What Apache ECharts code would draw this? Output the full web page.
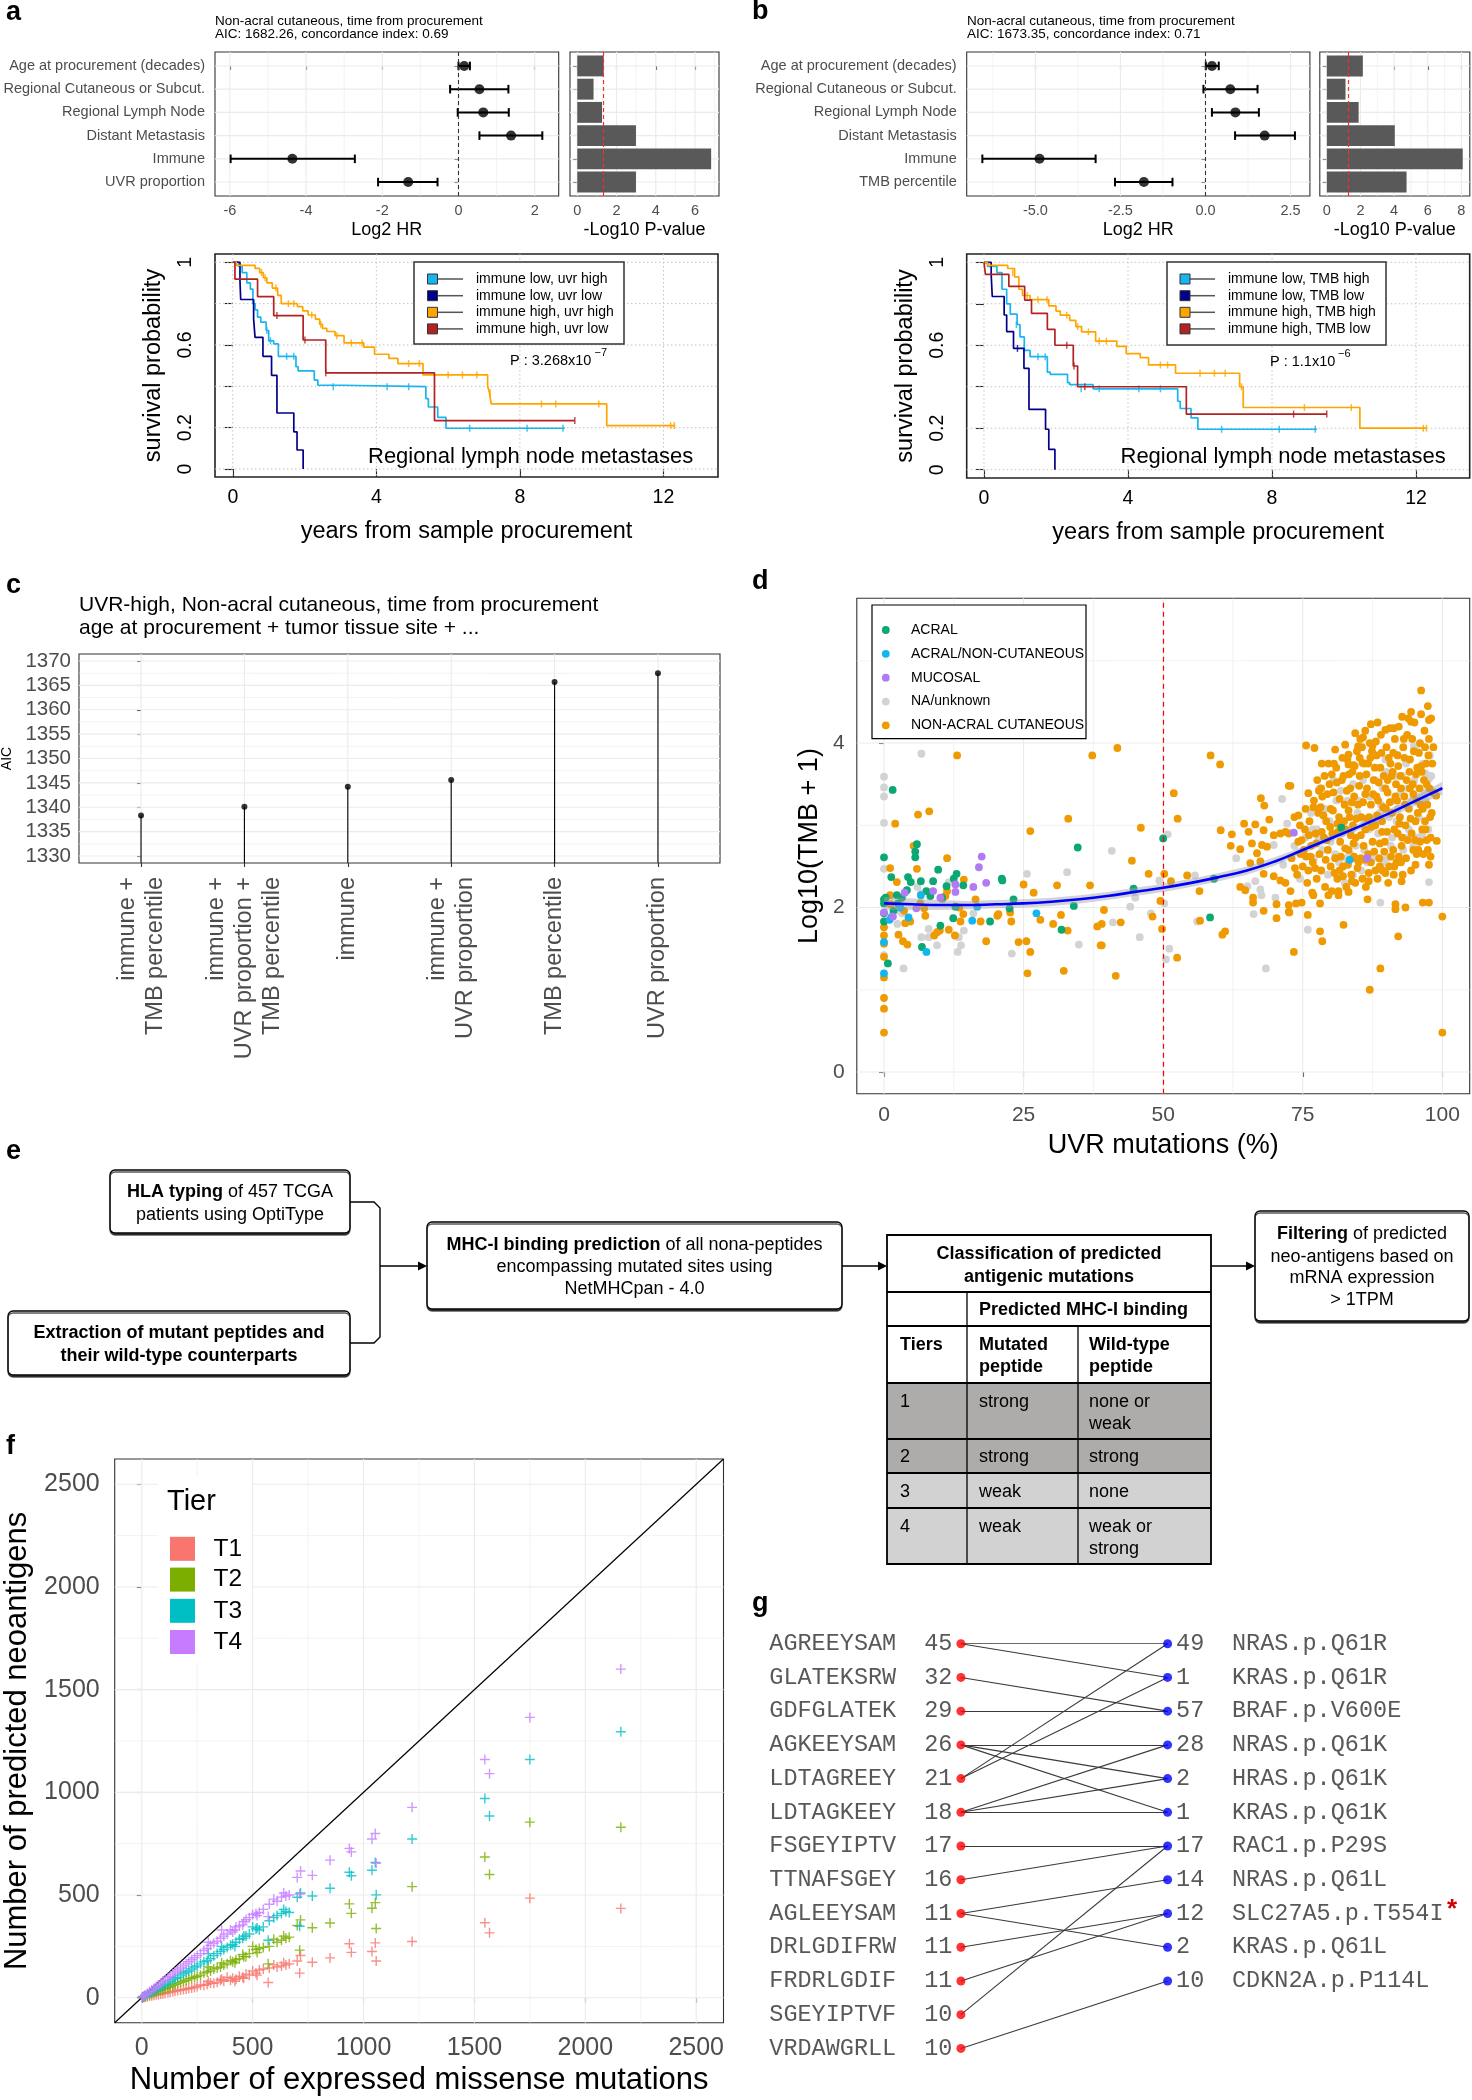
<!DOCTYPE html>
<html>
<head>
<meta charset="utf-8">
<title>Figure</title>
<script src="https://cdn.jsdelivr.net/npm/echarts@6.0.0/dist/echarts.min.js"></script>
<style>
html,body{margin:0;padding:0;background:#ffffff;}
#chart{width:1472px;height:2100px;}
</style>
</head>
<body>
<div id="chart"></div>
<script>
/* ======================= DATA ======================= */
// Panel a / b : Cox models
const coxRowsA = ['Age at procurement (decades)','Regional Cutaneous or Subcut.','Regional Lymph Node','Distant Metastasis','Immune','UVR proportion'];
const log2HrA = [0.15, 0.55, 0.65, 1.38, -4.36, -1.32];
const ciLowA  = [0.00, -0.22, -0.02, 0.55, -5.98, -2.11];
const ciHighA = [0.30, 1.31, 1.32, 2.20, -2.72, -0.55];
const negLogPA = [1.35, 0.83, 1.26, 2.99, 6.82, 2.99];
const coxRowsB = ['Age at procurement (decades)','Regional Cutaneous or Subcut.','Regional Lymph Node','Distant Metastasis','Immune','TMB percentile'];
const log2HrB = [0.19, 0.73, 0.88, 1.74, -4.88, -1.81];
const ciLowB  = [0.01, -0.06, 0.19, 0.87, -6.56, -2.66];
const ciHighB = [0.39, 1.53, 1.57, 2.63, -3.23, -0.97];
const negLogPB = [2.14, 1.11, 1.89, 4.04, 8.08, 4.74];
const pThreshold = 1.30;
const titleA = ['Non-acral cutaneous, time from procurement', 'AIC: 1682.26, concordance index: 0.69'];
const titleB = ['Non-acral cutaneous, time from procurement', 'AIC: 1673.35, concordance index: 0.71'];
const hrTicksA = [-6, -4, -2, 0, 2];
const hrMinorA = [-5, -3, -1, 1];
const hrTicksB = [-5, -2.5, 0, 2.5];
const hrMinorB = [-6.25, -3.75, -1.25, 1.25];
const pTicksA = [0, 2, 4, 6];
const pMinorA = [1, 3, 5, 7];
const pTicksB = [0, 2, 4, 6, 8];
const pMinorB = [1, 3, 5, 7];

// Kaplan-Meier curves [years, survival]
const kmGroupsA = ['immune low, uvr high', 'immune low, uvr low', 'immune high, uvr high', 'immune high, uvr low'];
const kmGroupsB = ['immune low, TMB high', 'immune low, TMB low', 'immune high, TMB high', 'immune high, TMB low'];
const kmA_lowHigh = [[0,1],[0.16,0.98],[0.26,0.95],[0.39,0.90],[0.49,0.87],[0.56,0.80],[0.62,0.77],[0.69,0.735],[0.78,0.71],[0.93,0.67],[1.0,0.62],[1.14,0.605],[1.27,0.545],[1.76,0.495],[1.82,0.475],[2.27,0.43],[2.37,0.405],[3.05,0.398],[5.38,0.34],[5.45,0.30],[5.71,0.25],[5.94,0.197],[9.25,0.197]];
const kmA_lowLow = [[0,1],[0.2,0.91],[0.22,0.82],[0.58,0.726],[0.62,0.637],[0.84,0.545],[1.08,0.453],[1.23,0.271],[1.70,0.18],[1.79,0.092],[1.96,0]];
const kmA_highHigh = [[0,1],[0.1,0.985],[0.62,0.97],[0.75,0.95],[0.85,0.925],[0.95,0.90],[1.1,0.875],[1.25,0.84],[1.35,0.80],[1.8,0.785],[1.95,0.765],[2.1,0.745],[2.3,0.725],[2.42,0.70],[2.5,0.68],[2.62,0.665],[2.85,0.645],[3.1,0.61],[3.65,0.59],[3.95,0.555],[4.35,0.535],[4.6,0.51],[5.3,0.455],[7.1,0.40],[7.15,0.37],[7.2,0.315],[10.42,0.21],[12.33,0.21]];
const kmA_highLow = [[0,1],[0.06,0.918],[0.69,0.834],[1.14,0.742],[1.96,0.624],[2.59,0.465],[5.62,0.234],[9.53,0.234]];
const kmB_lowHigh = [[0,1],[0.1,0.98],[0.36,0.95],[0.5,0.87],[0.63,0.80],[0.73,0.75],[0.92,0.70],[1.0,0.64],[1.12,0.575],[1.28,0.545],[1.76,0.47],[1.84,0.46],[2.32,0.42],[2.38,0.41],[3.03,0.39],[5.38,0.33],[5.45,0.295],[5.75,0.25],[5.94,0.195],[9.25,0.195]];
const kmB_lowLow = [[0,1],[0.2,0.94],[0.23,0.835],[0.56,0.746],[0.63,0.666],[0.82,0.585],[1.11,0.489],[1.25,0.291],[1.71,0.195],[1.80,0.098],[1.97,0]];
const kmB_highHigh = [[0,1],[0.1,0.985],[0.66,0.97],[0.85,0.93],[0.97,0.87],[1.07,0.84],[1.28,0.82],[1.8,0.79],[2.0,0.765],[2.12,0.745],[2.38,0.72],[2.55,0.69],[2.71,0.665],[3.1,0.62],[3.69,0.595],[3.95,0.56],[4.34,0.54],[4.57,0.505],[5.32,0.465],[7.1,0.40],[7.2,0.30],[10.44,0.2],[12.29,0.2]];
const kmB_highLow = [[0,1],[0.04,0.942],[0.69,0.884],[1.13,0.818],[1.32,0.754],[1.76,0.677],[1.97,0.6],[2.48,0.5],[2.6,0.4],[5.62,0.268],[9.52,0.268]];
// censoring marks
const censA_lowHigh = [[0.95,0.67],[1.05,0.62],[1.5,0.545],[1.7,0.545],[2.8,0.398],[4.3,0.398],[4.9,0.398],[6.6,0.197],[8.2,0.197],[9.2,0.197]];
const censA_lowLow = [];
const censA_highHigh = [[0.8,0.95],[0.9,0.925],[1.2,0.875],[1.55,0.80],[1.7,0.80],[2.2,0.745],[2.45,0.70],[2.9,0.645],[3.3,0.61],[3.6,0.61],[4.9,0.51],[5.2,0.51],[6.0,0.455],[6.4,0.455],[6.8,0.455],[7.17,0.37],[8.6,0.315],[9.0,0.315],[10.2,0.315],[12.2,0.21],[12.3,0.21]];
const censA_highLow = [[1.23,0.742],[2.01,0.624],[2.59,0.465],[9.53,0.234]];
const censB_lowHigh = [[0.9,0.70],[1.5,0.545],[1.7,0.545],[2.7,0.39],[3.2,0.39],[4.3,0.39],[4.9,0.39],[6.6,0.195],[8.2,0.195],[9.2,0.195]];
const censB_lowLow = [[0.93,0.585]];
const censB_highHigh = [[0.8,0.95],[1.2,0.84],[1.5,0.82],[1.75,0.82],[2.3,0.745],[2.6,0.69],[2.9,0.665],[3.2,0.62],[3.4,0.62],[4.9,0.505],[5.1,0.505],[6.0,0.465],[6.4,0.465],[6.7,0.465],[7.15,0.40],[8.9,0.30],[10.2,0.30],[12.2,0.2],[12.29,0.2]];
const censB_highLow = [[2.3,0.6],[2.5,0.5],[2.8,0.4],[8.6,0.268],[9.52,0.268]];
const kmXTicks = [0, 4, 8, 12];
const kmYTicks = [0, 0.2, 0.4, 0.6, 0.8, 1];
const kmYLabels = [0, 0.2, 0.6, 1];
const kmPValueA = ['P : 3.268x10', '\u22127'];
const kmPValueB = ['P : 1.1x10', '\u22126'];
const kmSubset = 'Regional lymph node metastases';

// Panel c : AIC
const aicTitle = ['UVR-high, Non-acral cutaneous, time from procurement', 'age at procurement + tumor tissue site + ...'];
const aicModels = ['immune +\nTMB percentile', 'immune +\nUVR proportion +\nTMB percentile', 'immune', 'immune +\nUVR proportion', 'TMB percentile', 'UVR proportion'];
const aicValues = [1338.3, 1340.1, 1344.2, 1345.6, 1365.7, 1367.5];
const aicTicks = [1330, 1335, 1340, 1345, 1350, 1355, 1360, 1365, 1370];
const aicMinor = [1332.5, 1337.5, 1342.5, 1347.5, 1352.5, 1357.5, 1362.5, 1367.5];

// Panel d : UVR vs TMB
const dLegend = ['ACRAL', 'ACRAL/NON-CUTANEOUS', 'MUCOSAL', 'NA/unknown', 'NON-ACRAL CUTANEOUS'];
const dAcral = [[1.55,3.43],[0,2.61],[5.9,2.77],[5.6,2.68],[5.6,2.61],[1.3,2.37],[4.3,2.37],[4.8,2.31],[9.7,2.46],[6.6,2.32],[8.8,2.32],[13,2.41],[12.5,2.35],[14.2,2.27],[11.2,2.26],[4.1,2.21],[7.6,2.20],[8.3,2.14],[10.4,2.12],[21.1,2.35],[21.2,2.33],[23.2,2.10],[22.5,1.99],[12.8,2.01],[0,2.10],[0,2.05],[0,1.93],[0,1.83],[1.7,1.96],[12.4,1.87],[10.1,1.78],[19,1.83],[6.8,1.52],[0.7,1.32],[34,2.02],[34.7,2.73],[31.8,1.73],[2.3,2.15],[0.3,2.12],[2.5,2.05],[3.2,2.12],[50,2.84],[44.7,2.23],[59.1,2.35],[58.4,1.88],[81.9,2.97]];
const dAcralNonCut = [[6.6,2.15],[1.0,1.85],[4.4,1.88],[0,1.58],[0,1.20],[7.6,1.46],[15.8,1.84],[16.7,2.01],[27.3,1.93],[2.9,2.0],[1.4,1.89],[83.4,2.58]];
const dMucosal = [[17.5,2.62],[17,2.49],[18.3,2.30],[16,2.25],[12.8,2.28],[12.8,2.19],[8.8,2.20],[10.1,2.12],[3.7,2.18],[5.8,1.99],[0,1.94],[1.6,1.89],[73.4,2.91],[86.5,2.60]];
const dUnknown = [[6.7,3.87],[0,3.59],[0,3.46],[0,3.35],[0,3.03],[0,2.47],[6.6,2.17],[3.3,1.93],[2.4,1.80],[8.0,1.74],[6.7,1.64],[8,1.64],[9.5,1.54],[13.4,1.64],[14.3,1.72],[13.8,1.54],[13.2,1.46],[16,1.93],[3.5,1.26],[0,1.42],[22.9,1.44],[25.6,2.41],[32.8,2.43],[34.9,1.55],[11.6,2.31],[6,2.25],[10.5,2.1],[3,1.95],
 [40.8,2.69],[50.8,2.89],[50.2,2.05],[45,2.12],[44.1,2.01],[41,1.82],[47.8,1.93],[45.8,1.64],[51.1,1.50],[50.5,1.37],[55.7,2.39],[56.1,1.83],[49.3,2.33],[71.3,3.32],[69.8,2.76],[72.2,3.02],[63.1,2.60],[66.5,2.32],[65.1,2.26],[67.6,2.15],[70.1,2.12],[66.2,1.92],[68.4,1.26],[71.5,2.52],[67.4,2.22],
 [88.9,2.06],[75.9,1.73],[97.6,2.31],[96.4,2.89],[94.9,3.96],[91.9,3.86],[97,3.63],[97.6,3.57],
 [73.5,2.75],[74.5,2.35],[75.5,2.85],[76.5,3.15],[77,2.6],[77.5,2.95],[78.5,2.7],[79,3.2],[79.5,2.4],[80,2.8],[80.5,3.55],[81,3.3],[81.5,2.55],[82,2.9],[82.5,2.3],[83,3.3],[83.5,2.65],[84,3.5],[84.5,2.75],[85,3.3],[85.5,2.45],[86,3.05],[86.5,2.55],[87,3.35],[87.5,2.6],[88,3.55],[88.5,2.9],[89,3.25],[89.5,2.55],[90,3.65],[90.5,3.1],[91,2.85],[91.5,3.6],[92,3.2],[92.5,3.4],[93,2.7],[93.5,3.75],[94,2.95],[94.5,3.3],[95,3.55],[95.5,2.85],[96,3.35],[96.5,3.75],[97,3.3],[97.5,2.95],[98,3.6],[86,2.7],[84,2.4],[90,2.6],[78,3.45],
 [77.8,2.85],[79.8,3.05],[81.8,3.42],[83.8,2.95],[85.8,3.55],[87.8,3.05],[89.8,3.8],[91.8,3.05],[93.8,3.45],[95.8,3.1],[97.8,3.85],[82.8,2.6],[86.8,2.95],[90.8,2.75],[94.8,2.75],[96.8,3.4],[84.8,3.15],[88.8,3.15],[92.8,3.6],[80.8,2.65],[76.8,2.95],[93.3,2.85],[95.3,3.95],[91.3,3.3],[89.3,3.45]];
const dNonAcral = [[13.1,3.85],[37.3,3.85],[6.1,3.13],[8.1,3.17],[2.0,3.02],[33,3.08],[26.2,2.93],[5.3,2.75],[11.3,2.60],[5.9,2.47],[1.1,2.48],[2.3,2.31],[1.1,2.15],[14.3,2.34],[16.4,2.10],[7.4,1.90],[4.7,1.83],[3.8,1.81],[7.2,1.99],[2.6,1.67],[3.4,1.59],[4.2,1.55],[9.0,1.66],[10,1.72],[11.6,1.73],[12.7,1.66],[13.7,1.83],[14.2,1.92],[17.3,1.83],[18.3,1.59],[20.3,1.90],[20.5,1.92],[22.6,1.94],[22.8,1.83],[25,2.28],[26.8,2.18],[28,1.85],[24.1,1.58],[25.5,1.59],[26.2,1.46],[25.7,1.20],[31,2.27],[30.3,1.80],[31.7,1.91],[32.9,1.72],[32.2,1.23],[36.9,2.27],[38.2,1.77],[38.8,1.54],[0,1.76],[0,1.66],[0,1.56],[0,1.40],[0,1.15],[0,0.90],[0,0.77],[0,0.48],[11,2.14],[10.4,2.11],[11.3,2.20],[9.5,1.70],[1.2,2.04],[3.6,1.96],[13.5,2.0],[6.5,2.05],
 [41.8,3.94],[58.5,3.85],[60.2,3.74],[51.9,3.39],[52.6,3.08],[46,2.97],[44.4,2.57],[47.4,2.41],[50.2,2.41],[51.4,2.32],[54.3,2.39],[56.5,2.20],[49.5,2.08],[49.8,1.74],[39.4,1.97],[39,1.80],[42.4,1.82],[39,1.54],[41.5,1.17],[48.1,1.89],[52.5,1.39],[56.6,1.84],[61.1,1.71],[60.6,1.67],[60.3,2.94],[62.3,2.89],[62.1,2.75],[63.8,2.71],[64.5,3.02],[65.3,2.92],[66.5,3.01],[67.5,3.33],[68.1,3.24],[69,3.07],[68,2.94],[69.8,2.88],[71,2.90],[71.9,2.92],[72.5,3.48],[65.9,2.78],[66.8,2.66],[67.7,2.76],[68.6,2.74],[67.4,2.56],[68,2.41],[69.8,2.38],[71,2.33],[71.9,2.30],[65.6,2.54],[63.8,2.25],[66.1,2.12],[66.1,2.06],[68,1.96],[70.3,2.04],[70.3,1.87],[72.5,2.03],[72.5,1.95],[64.7,2.21],
 [96.2,4.64],[87.2,4.23],[94.4,4.26],[97.6,4.28],[89.8,4.16],[91.3,4.18],[85.8,4.07],[75.6,3.97],[77.1,3.94],[84.9,3.96],[87.5,3.97],[83.2,3.86],[83.2,3.74],[84.1,3.73],[85.7,3.76],[86.7,3.75],[72.8,3.48],[76,3.39],[78.3,3.45],[98.9,3.36],[99.0,2.81],[97.6,2.52],[92.7,2.32],[86.6,2.10],[91.6,2.04],[91.6,1.98],[93.4,2.00],[96.5,2.06],[97.6,2.06],[100,1.89],[72.6,1.94],[75.9,1.91],[78.1,1.71],[78.5,1.59],[82.3,1.79],[92.1,1.65],[88.9,1.26],[73.4,1.46],[87,1.0],[100,0.48],[74.8,2.06],[76.7,2.18],[81.4,2.15],[83.2,2.19],
 [72.5,2.9],[73,2.6],[73.5,3.1],[74,2.4],[74.2,2.8],[74.5,3.0],[75,2.5],[75.2,2.7],[75.5,3.2],[75.8,2.3],[72.8,2.2],[73.8,2.05],[74.6,2.65],[75.4,2.95],[76,2.45],
 [76.2,3.05],[76.5,2.75],[76.8,2.55],[77,3.3],[77.3,2.9],[77.5,2.35],[77.8,3.15],[78,2.65],[78.3,2.45],[78.5,3.35],[78.8,2.85],[79,2.25],[79.2,3.05],[79.5,2.7],[79.8,3.5],[80,2.5],[76.9,2.15],[78.1,2.05],[79.6,2.15],[80,3.2],[77.6,3.55],[78.9,3.6],
 [80.3,2.9],[80.5,3.4],[80.8,2.6],[81,3.7],[81.2,2.35],[81.5,3.1],[81.7,2.8],[82,3.55],[82.2,2.5],[82.5,3.25],[82.7,2.95],[83,3.8],[83.2,2.7],[83.5,3.45],[83.7,2.4],[84,3.0],[80.6,3.75],[81.4,2.2],[82.8,2.25],[83.9,3.65],[80.2,2.2],[81.9,3.0],[82.3,3.6],[83.4,3.1],[84,2.6],
 [84.2,3.35],[84.5,2.85],[84.7,3.9],[85,2.55],[85.2,3.6],[85.5,3.1],[85.7,2.35],[86,3.75],[86.2,2.95],[86.5,3.45],[86.7,2.65],[87,4.0],[87.2,3.25],[87.5,2.8],[87.7,3.55],[88,2.45],[84.4,2.3],[85.3,4.05],[86.3,2.25],[87.4,3.9],[84.9,3.25],[85.9,2.75],[86.9,3.1],[87.9,3.7],[88,3.0],
 [88.2,3.85],[88.5,3.3],[88.7,2.6],[89,4.1],[89.2,3.05],[89.5,3.6],[89.7,2.8],[90,3.95],[90.2,3.4],[90.5,2.5],[90.7,3.75],[91,3.15],[91.2,2.7],[91.5,4.05],[91.7,3.5],[92,2.9],[88.4,2.35],[89.3,2.45],[90.3,2.3],[91.3,2.4],[88.9,3.7],[89.9,3.2],[90.9,3.6],[91.9,3.3],[92,3.85],
 [92.2,4.2],[92.5,3.6],[92.7,2.75],[93,3.95],[93.2,3.35],[93.5,2.6],[93.7,4.1],[94,3.2],[94.2,3.8],[94.5,2.9],[94.7,3.5],[95,4.25],[95.2,3.05],[95.5,3.7],[95.7,2.7],[96,4.0],[92.4,3.1],[93.4,3.0],[94.4,2.45],[95.4,3.3],[93.9,4.3],[94.9,3.9],[95.9,3.45],[96,2.8],[92.9,2.4],
 [96.3,3.65],[96.5,3.2],[96.8,4.15],[97,2.95],[97.2,3.5],[97.5,3.85],[97.8,3.1],[98,4.3],[98.3,3.4],[96.6,2.65],[97.4,2.7],[98.2,3.75],[97.9,2.85],[96.9,3.95],
 [76.4,2.62],[76.9,3.22],[77.4,2.78],[77.9,3.42],[78.4,2.92],[78.7,3.12],[79.1,2.58],[79.4,3.38],[79.9,2.98],[80.4,3.18],[80.7,2.42],[81.1,3.52],[81.3,2.92],[81.6,3.32],[81.8,2.62],[82.1,3.82],[82.4,3.05],[82.6,2.72],[82.9,3.42],[83.1,2.52],[83.3,3.62],[83.6,2.88],[83.8,3.28],[84.1,2.78],[84.3,3.72],[84.6,3.08],[84.8,2.48],[85.1,3.48],[85.4,2.88],[85.6,3.95],[85.8,3.28],[86.1,2.58],[86.4,3.62],[86.6,3.08],[86.8,2.42],[87.1,3.82],[87.3,2.98],[87.6,3.38],[87.8,2.68],[88.1,4.02],[88.3,3.12],[88.6,3.52],[88.8,2.78],[89.1,3.88],[89.4,3.22],[89.6,2.68],[89.8,3.45],[90.1,2.92],[90.4,3.82],[90.6,3.28],[90.8,2.62],[91.1,3.65],[91.4,2.95],[91.6,3.35],[91.8,2.55],[92.1,3.72],[92.3,3.02],[92.6,3.45],[92.8,2.85],[93.1,4.05],[93.3,3.25],[93.6,3.55],[93.8,2.82],[94.1,3.65],[94.3,3.08],[94.6,4.05],[94.8,3.38],[95.1,2.82],[95.3,3.62],[95.6,3.15],[95.8,3.88],[96.1,3.25],[96.4,2.95],[96.7,3.55],[96.9,3.05],[97.1,3.75],[97.3,3.25],[97.6,4.05],[97.7,3.45],[98.1,3.15],[98.4,3.95],
 [76.1,2.88],[77.2,2.48],[78.2,3.22],[79.3,2.82],[80.2,3.62],[81.2,3.02],[82.2,2.38],[83.2,3.18],[84.2,2.62],[85.2,3.82],[86.2,3.38],[87.2,2.55],[88.2,3.35],[89.2,2.92],[90.2,3.55],[91.2,3.88],[92.2,2.62],[93.2,3.82],[94.2,3.45],[95.2,2.52],[96.2,3.72],[97.2,2.82],[74.8,2.82],[75.6,2.62],[73.6,2.48],[74.2,3.12],[80.8,3.92],[82.6,3.98],[84.4,4.12],[86.2,4.15],[88.4,4.25],[90.6,4.18],[92.8,4.32],[94.4,4.38],[96.2,4.35],[97.4,4.45],[79.6,3.75],[78.4,3.75],[83.8,2.32],[86.8,2.32],[89.8,2.42],[92.6,2.55],[95.4,2.65],[97.9,2.62],[81.6,2.45],[85.4,2.6],[88.8,2.5],[91.4,2.5],[94.8,2.7]];
const dFitX = [0,5,10,15,20,25,30,35,40,45,50,55,60,65,70,75,80,85,90,95,100];
const dFit = [2.05,2.04,2.03,2.03,2.04,2.05,2.07,2.10,2.14,2.19,2.24,2.30,2.37,2.45,2.56,2.70,2.84,2.98,3.13,3.29,3.45];
const dFitLow = [1.97,1.97,1.97,1.98,1.99,2.00,2.02,2.05,2.09,2.14,2.19,2.25,2.32,2.40,2.51,2.66,2.80,2.94,3.08,3.23,3.37];
const dFitHigh = [2.13,2.11,2.09,2.08,2.09,2.10,2.12,2.15,2.19,2.24,2.29,2.35,2.42,2.50,2.61,2.74,2.88,3.02,3.18,3.35,3.53];
const dUvrCut = 50;
const dXTicks = [0, 25, 50, 75, 100];
const dXMinor = [12.5, 37.5, 62.5, 87.5];
const dYTicks = [0, 2, 4];
const dYMinor = [1, 3, 5];

// Panel f : neoantigens
const fTiers = ['T1', 'T2', 'T3', 'T4'];
const fMissense = [2160,1750,1547,1568,1219,1053,1038,1057,936,945,849,769,716,701,712,
 665,650,640,630,610,595,575,570,548,530,520,515,500,485,470,460,455,440,425,420,410,400,385,370,360,355,340,325,310,300,295,280,265,250,238,225,212,200,188,175,162,150,140,128,118,105,95,85,75,65,55,45,35,25,15,8,3];
const fT1 = [435,485,365,316,274,267,225,179,263,221,194,173,206,179,120,
 165,160,170,155,150,160,145,74,140,135,110,120,130,110,115,95,100,105,90,80,95,85,100,80,90,85,75,70,72,80,65,60,62,55,50,48,45,42,40,38,35,32,30,28,25,22,20,18,16,14,12,10,8,5,3,2,0];
const fT2 = [830,855,685,600,541,463,436,337,457,411,364,341,379,352,232,
 295,290,300,280,270,285,250,165,245,240,220,235,250,215,200,200,210,190,185,170,175,180,165,160,170,150,145,140,130,150,125,120,110,105,100,95,92,85,80,75,70,65,60,55,50,45,40,36,32,28,24,20,15,11,7,4,1];
const fT3 = [1295,1160,970,885,773,659,621,501,611,594,533,495,510,489,348,
 415,420,430,410,400,390,375,280,345,330,340,335,345,310,300,300,290,285,270,250,260,255,245,235,250,225,215,205,190,215,180,175,165,155,150,140,130,125,118,110,100,95,88,80,72,65,60,52,47,40,34,28,22,16,10,5,2];
const fT4 = [1600,1365,1160,1091,927,800,773,655,727,710,670,596,617,586,505,
 500,495,510,490,470,480,455,395,430,415,400,410,405,390,380,370,355,350,345,330,320,330,310,300,330,290,275,265,255,270,240,230,215,205,195,185,175,165,155,145,135,125,115,105,98,88,80,70,62,55,46,38,30,21,13,7,3];
const fTicks = [0, 500, 1000, 1500, 2000, 2500];
const fMinor = [250, 750, 1250, 1750, 2250];
const fRange = [-122, 2623];

// Panel g : peptides -> mutations
const gPeptides = ['AGREEYSAM','GLATEKSRW','GDFGLATEK','AGKEEYSAM','LDTAGREEY','LDTAGKEEY','FSGEYIPTV','TTNAFSGEY','AGLEEYSAM','DRLGDIFRW','FRDRLGDIF','SGEYIPTVF','VRDAWGRLL'];
const gPeptideCounts = [45,32,29,26,21,18,17,16,11,11,11,10,10];
const gMutations = ['NRAS.p.Q61R','KRAS.p.Q61R','BRAF.p.V600E','NRAS.p.Q61K','HRAS.p.Q61K','KRAS.p.Q61K','RAC1.p.P29S','NRAS.p.Q61L','SLC27A5.p.T554I','KRAS.p.Q61L','CDKN2A.p.P114L'];
const gMutationCounts = [49,1,57,28,2,1,17,14,12,2,10];
const gLinks = [[0,0],[0,1],[1,2],[2,2],[3,3],[3,4],[3,5],[4,0],[4,1],[5,3],[5,4],[5,5],[6,6],[7,6],[8,7],[8,9],[9,8],[10,8],[11,6],[12,10]];

// Panel e : pipeline + tier table
const eTableHead = ['Tiers', 'Mutated\npeptide', 'Wild-type\npeptide'];
const eTableRows = [['1','strong','none or\nweak'],['2','strong','strong'],['3','weak','none'],['4','weak','weak or\nstrong']];

/* ======================= STYLE / BUILD ======================= */
const FONT = "'Liberation Sans', Arial, Helvetica, sans-serif";
const MONO = "'Liberation Mono', 'Courier New', monospace";
const GRAY30 = '#4D4D4D', BORDER = '#333333', GMAJ = '#EBEBEB';
const KM_COLORS = ['#19B5F0', '#00008B', '#FFA500', '#B22222'];
const D_COLORS = ['#0BA873', '#12B6EE', '#B17BF5', '#D3D3D3', '#EE9A00'];
const F_COLORS = ['#F8766D', '#7CAE00', '#00BFC4', '#C77CFF'];
const plainNum = (v)=>String(v);

const grids = [], xAxes = [], yAxes = [], series = [], gfx = [];

function addPanel(grid, xAxis, yAxis) {
  const i = grids.length;
  grids.push(Object.assign({show:true, backgroundColor:'#FFFFFF', borderColor:BORDER, borderWidth:1.1, containLabel:false, outerBoundsMode:'none'}, grid));
  xAxes.push(Object.assign({gridIndex:i}, xAxis));
  yAxes.push(Object.assign({gridIndex:i}, yAxis));
  return i;
}
function tickCfg(vals, len, color) { return {show:true, customValues:vals, length:len, lineStyle:{color:color||BORDER, width:1.1}}; }
function labelCfg(vals, size, color, margin, extra) { return Object.assign({show:true, customValues:vals, fontSize:size, color:color||GRAY30, fontFamily:FONT, margin:margin, formatter:plainNum}, extra||{}); }
function nameCfg(name, gap, size) { return {name:name, nameLocation:'middle', nameGap:gap, nameTextStyle:{color:'#000', fontSize:size, fontFamily:FONT}}; }
function vLines(p, vals, yRef, color, width, dash, z) {
  return {type:'custom', xAxisIndex:p, yAxisIndex:p, z:z||1, silent:true, data: vals.map(v=>[v, yRef]),
    renderItem:(prm, api)=>{ const cs = prm.coordSys; const x = api.coord([api.value(0), api.value(1)])[0];
      return {type:'line', shape:{x1:x, y1:cs.y, x2:x, y2:cs.y+cs.height}, style:{stroke:color, lineWidth:width, lineDash:dash||null}}; }};
}
function hLines(p, vals, xRef, color, width, dash, z) {
  return {type:'custom', xAxisIndex:p, yAxisIndex:p, z:z||1, silent:true, data: vals.map(v=>[xRef, v]),
    renderItem:(prm, api)=>{ const cs = prm.coordSys; const y = api.coord([api.value(0), api.value(1)])[1];
      return {type:'line', shape:{x1:cs.x, y1:y, x2:cs.x+cs.width, y2:y}, style:{stroke:color, lineWidth:width, lineDash:dash||null}}; }};
}
function T(x, y, text, o) {
  o = o || {};
  const st = {text:text, fill:o.color||'#000', fontSize:o.size||14, fontFamily:o.family||FONT, fontWeight:o.weight||'normal',
    align:o.align||'left', verticalAlign:o.va||'middle', textAlign:o.align||'left', textVerticalAlign:o.va||'middle'};
  if (o.lh) st.lineHeight = o.lh;
  if (o.rich) st.rich = o.rich;
  return {type:'text', x:x, y:y, z:o.z||10, silent:true, style:st};
}
function R(x, y, w, h, style, z, r) { return {type:'rect', z:z||10, silent:true, shape:{x:x, y:y, width:w, height:h, r:r||0}, style:style}; }
function L(x1, y1, x2, y2, style, z) { return {type:'line', z:z||10, silent:true, shape:{x1:x1, y1:y1, x2:x2, y2:y2}, style:style}; }

const catIdx6 = [0,1,2,3,4,5];

/* ---------- forest panels ---------- */
function forestPanel(g, rows, hr, lo, hi, xr, ticks, minor, fmt) {
  const p = addPanel(g,
    Object.assign({type:'value', min:xr[0], max:xr[1], axisLine:{show:false}, splitLine:{show:false},
      axisTick:tickCfg(ticks, 4), axisLabel:labelCfg(ticks, 14.5, GRAY30, 7, fmt ? {formatter:fmt} : {})}, nameCfg('Log2 HR', 25, 18)),
    {type:'value', min:-0.6, max:5.6, inverse:true, axisLine:{show:false}, splitLine:{show:false},
      axisTick:tickCfg(catIdx6, 4), axisLabel:labelCfg(catIdx6, 14.5, GRAY30, 10, {formatter:(v)=>rows[Math.round(v)]})});
  series.push(vLines(p, minor, 0, GMAJ, 0.6));
  series.push(vLines(p, ticks, 0, GMAJ, 1.1));
  series.push(hLines(p, catIdx6, 0, GMAJ, 1.1));
  series.push({type:'custom', xAxisIndex:p, yAxisIndex:p, z:3, silent:true,
    data: lo.map((v,i)=>[v, hi[i], i]), encode:{x:[0,1], y:2},
    renderItem:(prm, api)=>{
      const a = api.coord([api.value(0), api.value(2)]);
      const b = api.coord([api.value(1), api.value(2)]);
      const h = 4.3, st = {stroke:'#000', lineWidth:2};
      return {type:'group', children:[
        {type:'line', shape:{x1:a[0], y1:a[1], x2:b[0], y2:b[1]}, style:st},
        {type:'line', shape:{x1:a[0], y1:a[1]-h, x2:a[0], y2:a[1]+h}, style:st},
        {type:'line', shape:{x1:b[0], y1:b[1]-h, x2:b[0], y2:b[1]+h}, style:st}]};
    }});
  series.push({type:'scatter', xAxisIndex:p, yAxisIndex:p, z:4, symbolSize:10, itemStyle:{color:'#000'}, silent:true,
    data: hr.map((v,i)=>[v, i]),
    markLine:{silent:true, symbol:['none','none'], label:{show:false}, lineStyle:{color:'#333', type:[4,3], width:1.1}, data:[{xAxis:0}]}});
  return p;
}
function pvalPanel(g, pv, xr, ticks, minor) {
  const p = addPanel(g,
    Object.assign({type:'value', min:xr[0], max:xr[1], axisLine:{show:false}, splitLine:{show:false},
      axisTick:tickCfg(ticks, 4), axisLabel:labelCfg(ticks, 14.5, GRAY30, 7)}, nameCfg('-Log10 P-value', 25, 18)),
    {type:'value', min:-0.6, max:5.6, inverse:true, axisLine:{show:false}, splitLine:{show:false},
      axisTick:tickCfg(catIdx6, 4), axisLabel:{show:false}});
  series.push(vLines(p, minor, 0, GMAJ, 0.6));
  series.push(vLines(p, ticks, 0, GMAJ, 1.1));
  series.push(hLines(p, catIdx6, 0, GMAJ, 1.1));
  series.push({type:'custom', xAxisIndex:p, yAxisIndex:p, z:3, silent:true,
    data: pv.map((v,i)=>[v, i]),
    renderItem:(prm, api)=>{
      const a = api.coord([0, api.value(1)]);
      const b = api.coord([api.value(0), api.value(1)]);
      const hh = api.size([0, 1])[1] * 0.45;
      return {type:'rect', shape:{x:a[0], y:a[1]-hh, width:b[0]-a[0], height:2*hh}, style:{fill:'#595959'}};
    },
    markLine:{silent:true, symbol:['none','none'], label:{show:false}, lineStyle:{color:'#FF2A2A', type:[4,3], width:1.2}, data:[{xAxis:pThreshold}]}});
  return p;
}

forestPanel({left:215, top:52, width:343.7, height:144}, coxRowsA, log2HrA, ciLowA, ciHighA, [-6.39, 2.63], hrTicksA, hrMinorA);
pvalPanel({left:570, top:52, width:149, height:144}, negLogPA, [-0.37, 7.22], pTicksA, pMinorA);
forestPanel({left:966.7, top:52, width:343.2, height:144}, coxRowsB, log2HrB, ciLowB, ciHighB, [-7.02, 3.07], hrTicksB, hrMinorB, (v)=>v.toFixed(1));
pvalPanel({left:1319.8, top:52, width:150, height:144}, negLogPB, [-0.42, 8.5], pTicksB, pMinorB);

/* ---------- KM panels ---------- */
function kmPanel(g, xr, yr, curves, censors) {
  const p = addPanel(Object.assign({borderColor:'#222', borderWidth:1.6}, g),
    Object.assign({type:'value', min:xr[0], max:xr[1], axisLine:{show:false}, splitLine:{show:false},
      axisTick:tickCfg(kmXTicks, 8, '#222'), axisLabel:labelCfg(kmXTicks, 19.5, '#000', 11)}, nameCfg('years from sample procurement', 43, 23.5)),
    Object.assign({type:'value', min:yr[0], max:yr[1], axisLine:{show:false}, splitLine:{show:false},
      axisTick:tickCfg(kmYTicks, 8, '#222'), axisLabel:labelCfg(kmYLabels, 19.5, '#000', 19, {rotate:90})}, nameCfg('survival probability', 49, 23.5)));
  series.push(vLines(p, kmXTicks, 0.5, '#C4C4C4', 1, [1.5,2.5]));
  series.push(hLines(p, kmYTicks, 6, '#C4C4C4', 1, [1.5,2.5]));
  curves.forEach((c, k)=>{
    series.push({type:'line', xAxisIndex:p, yAxisIndex:p, z:3+k, step:'end', showSymbol:false, symbol:'none', silent:true,
      data:c, lineStyle:{color:KM_COLORS[k], width:1.7}});
    series.push({type:'scatter', xAxisIndex:p, yAxisIndex:p, z:3+k, symbol:'rect', symbolSize:[1.5,7], silent:true,
      itemStyle:{color:KM_COLORS[k]}, data:censors[k]});
  });
  return p;
}
kmPanel({left:215, top:254, width:503, height:223}, [-0.496, 13.52], [-0.0387, 1.040],
  [kmA_lowHigh, kmA_lowLow, kmA_highHigh, kmA_highLow], [censA_lowHigh, censA_lowLow, censA_highHigh, censA_highLow]);
kmPanel({left:966.7, top:254, width:503, height:224}, [-0.48, 13.49], [-0.040, 1.040],
  [kmB_lowHigh, kmB_lowLow, kmB_highHigh, kmB_highLow], [censB_lowHigh, censB_lowLow, censB_highHigh, censB_highLow]);

/* ---------- panel c ---------- */
const pc = addPanel({left:79, top:654, width:641, height:209},
  {type:'value', min:-0.6, max:5.6, axisLine:{show:false}, splitLine:{show:false},
    axisTick:tickCfg(catIdx6, 4), axisLabel:labelCfg(catIdx6, 23.5, GRAY30, 14, {rotate:90, lineHeight:28, formatter:(v)=>aicModels[Math.round(v)]})},
  Object.assign({type:'value', min:1328.56, max:1371.44, axisLine:{show:false}, splitLine:{show:false},
    axisTick:tickCfg(aicTicks, 4), axisLabel:labelCfg(aicTicks, 20.5, GRAY30, 8)}, nameCfg('AIC', 65, 14)));
series.push(hLines(pc, aicMinor, 0, GMAJ, 0.6));
series.push(hLines(pc, aicTicks, 0, GMAJ, 1.1));
series.push(vLines(pc, catIdx6, 1350, GMAJ, 1.1));
series.push({type:'custom', xAxisIndex:pc, yAxisIndex:pc, z:3, silent:true, data: aicValues.map((v,i)=>[i, v]),
  renderItem:(prm, api)=>{ const cs = prm.coordSys; const a = api.coord([api.value(0), api.value(1)]);
    return {type:'line', shape:{x1:a[0], y1:a[1], x2:a[0], y2:cs.y+cs.height}, style:{stroke:'#000', lineWidth:1.1}}; }});
series.push({type:'scatter', xAxisIndex:pc, yAxisIndex:pc, z:4, symbolSize:6, itemStyle:{color:'#000'}, silent:true, data: aicValues.map((v,i)=>[i, v])});

/* ---------- panel d ---------- */
const pd = addPanel({left:856.8, top:598.3, width:612.9, height:495.5},
  Object.assign({type:'value', min:-4.87, max:104.9, axisLine:{show:false}, splitLine:{show:false},
    axisTick:tickCfg(dXTicks, 5), axisLabel:labelCfg(dXTicks, 21, GRAY30, 11)}, nameCfg('UVR mutations (%)', 38, 27)),
  Object.assign({type:'value', min:-0.265, max:5.76, axisLine:{show:false}, splitLine:{show:false},
    axisTick:tickCfg(dYTicks, 5), axisLabel:labelCfg(dYTicks, 21, GRAY30, 12)}, nameCfg('Log10(TMB + 1)', 34, 27)));
series.push(vLines(pd, dXMinor, 0, GMAJ, 0.6));
series.push(vLines(pd, dXTicks, 0, GMAJ, 1.1));
series.push(hLines(pd, dYMinor, 0, GMAJ, 0.6));
series.push(hLines(pd, dYTicks, 0, GMAJ, 1.1));
// draw order: unknown first so the orange cluster dominates, then orange, then the rarer groups
[dUnknown, dNonAcral, dAcral, dAcralNonCut, dMucosal].forEach((arr, k)=>{
  const ci = [3, 4, 0, 1, 2][k];
  series.push({type:'scatter', xAxisIndex:pd, yAxisIndex:pd, z:3, symbolSize:7.8, silent:true, itemStyle:{color:D_COLORS[ci], opacity:1}, data:arr});
});
series.push({type:'custom', xAxisIndex:pd, yAxisIndex:pd, z:6, silent:true, data:[[0, 0]],
  renderItem:(prm, api)=>{
    const pts = [];
    dFitX.forEach((x,i)=>pts.push(api.coord([x, dFitHigh[i]])));
    for (let i = dFitX.length-1; i >= 0; i--) pts.push(api.coord([dFitX[i], dFitLow[i]]));
    return {type:'polygon', shape:{points:pts}, style:{fill:'rgba(160,160,160,0.45)'}};
  }});
series.push({type:'line', xAxisIndex:pd, yAxisIndex:pd, z:7, smooth:true, showSymbol:false, symbol:'none', silent:true,
  data: dFitX.map((x,i)=>[x, dFit[i]]), lineStyle:{color:'#0000FF', width:2.6},
  markLine:{silent:true, symbol:['none','none'], label:{show:false}, lineStyle:{color:'#FF0000', type:[5,4], width:1.2}, data:[{xAxis:dUvrCut}]}});

/* ---------- panel f ---------- */
const pf = addPanel({left:114.7, top:1459, width:608.8, height:563.8},
  Object.assign({type:'value', min:fRange[0], max:fRange[1], axisLine:{show:false}, splitLine:{show:false},
    axisTick:tickCfg(fTicks, 5), axisLabel:labelCfg(fTicks, 25, GRAY30, 13)}, nameCfg('Number of expressed missense mutations', 42, 31)),
  Object.assign({type:'value', min:fRange[0], max:fRange[1], axisLine:{show:false}, splitLine:{show:false},
    axisTick:tickCfg(fTicks, 5), axisLabel:labelCfg(fTicks, 25, GRAY30, 15)}, nameCfg('Number of predicted neoantigens', 82, 31)));
series.push(vLines(pf, fMinor, 0, GMAJ, 0.6));
series.push(vLines(pf, fTicks, 0, GMAJ, 1.1));
series.push(hLines(pf, fMinor, 0, GMAJ, 0.6));
series.push(hLines(pf, fTicks, 0, GMAJ, 1.1));
series.push({type:'line', xAxisIndex:pf, yAxisIndex:pf, z:3, showSymbol:false, symbol:'none', silent:true,
  data:[[fRange[0], fRange[0]], [fRange[1], fRange[1]]], lineStyle:{color:'#000', width:1.2}});
const PLUS = 'path://M0,4.3H10V5.7H0Z M4.3,0H5.7V10H4.3Z';
[fT1, fT2, fT3, fT4].forEach((arr, k)=>{
  series.push({type:'scatter', xAxisIndex:pf, yAxisIndex:pf, z:4, symbol:PLUS, symbolSize:10, silent:true,
    itemStyle:{color:F_COLORS[k]}, data: arr.map((v,i)=>[fMissense[i], v])});
});

/* ---------- panel g ---------- */
const pg = addPanel({left:960.9, top:1643.7, width:206.7, height:404.7, show:false},
  {type:'value', min:0, max:1, show:false}, {type:'value', min:0, max:12, inverse:true, show:false});
series.push({type:'lines', coordinateSystem:'cartesian2d', xAxisIndex:pg, yAxisIndex:pg, z:2, silent:true,
  lineStyle:{color:'#3A3A3A', width:1.1, opacity:1}, data: gLinks.map(l=>({coords:[[0, l[0]], [1, l[1]]]}))});
const gTxt = {fontFamily:MONO, fontSize:23.5, color:'#2E2E2E'};
series.push({type:'scatter', xAxisIndex:pg, yAxisIndex:pg, z:3, symbolSize:9, silent:true, itemStyle:{color:'#FF0000'},
  data: gPeptides.map((n,i)=>[0, i]),
  label:{show:true, position:'left', distance:4, formatter:(prm)=>'{p|'+gPeptides[prm.dataIndex]+'}{c|'+gPeptideCounts[prm.dataIndex]+'}',
    rich:{p:Object.assign({width:154.9, align:'left'}, gTxt), c:Object.assign({align:'right'}, gTxt)}}});
series.push({type:'scatter', xAxisIndex:pg, yAxisIndex:pg, z:3, symbolSize:9, silent:true, itemStyle:{color:'#0000FF'},
  data: gMutations.map((n,i)=>[1, i]),
  label:{show:true, position:'right', distance:4, formatter:(prm)=>'{n|'+gMutationCounts[prm.dataIndex]+'}{m|'+gMutations[prm.dataIndex]+'}',
    rich:{n:Object.assign({width:55.9, align:'left'}, gTxt), m:Object.assign({align:'left'}, gTxt)}}});

/* ======================= GRAPHIC TEXT / DECOR ======================= */
[['a',6,13],['b',752,12],['c',6,586],['d',752,582],['e',6,1152],['f',6,1447],['g',752,1604]].forEach(l=>gfx.push(T(l[1], l[2], l[0], {size:27, weight:'bold'})));
gfx.push(T(215, 21, titleA[0], {size:13.5}), T(215, 34, titleA[1], {size:13.5}));
gfx.push(T(967, 21, titleB[0], {size:13.5}), T(967, 34, titleB[1], {size:13.5}));
function kmLegend(box, swX, lineX2, textX, labels) {
  const ys = [279, 295.7, 312.3, 328.9];
  gfx.push(R(box[0], box[1], box[2], box[3], {fill:'#fff', stroke:'#333', lineWidth:1.5}, 50));
  labels.forEach((lab, k)=>{
    gfx.push(L(swX+5, ys[k], lineX2, ys[k], {stroke:'#555', lineWidth:1.5}, 51));
    gfx.push(R(swX-5, ys[k]-5, 10, 10, {fill:KM_COLORS[k], stroke:'#333', lineWidth:1}, 52));
    gfx.push(T(textX, ys[k], lab, {size:14, z:52}));
  });
}
kmLegend([414, 262, 210, 82], 432.5, 463, 476, kmGroupsA);
kmLegend([1167, 262, 219, 83], 1185, 1215, 1228, kmGroupsB);
gfx.push(T(510, 361, kmPValueA[0], {size:14.5, z:52}), T(594.5, 353, kmPValueA[1], {size:11, z:52}));
gfx.push(T(1270, 362, kmPValueB[0], {size:14.5, z:52}), T(1338, 354, kmPValueB[1], {size:11, z:52}));
gfx.push(T(368, 457, kmSubset, {size:22, z:52}), T(1120.5, 457, kmSubset, {size:22, z:52}));
gfx.push(T(79, 605, aicTitle[0], {size:21}), T(79, 628, aicTitle[1], {size:21}));
gfx.push(R(872, 605, 214, 133.7, {fill:'#fff', stroke:'#000', lineWidth:1.2}, 50));
[630, 653.8, 677.7, 701.6, 725.3].forEach((y, k)=>{
  gfx.push({type:'circle', z:51, silent:true, shape:{cx:885.8, cy:y, r:3.9}, style:{fill:D_COLORS[k]}});
  gfx.push(T(911, y, dLegend[k], {size:14, z:52}));
});
gfx.push(R(158, 1476, 94, 188, {fill:'#fff'}, 50));
gfx.push(T(167, 1502, 'Tier', {size:29, z:52}));
[1548.8, 1579.6, 1610.8, 1642].forEach((y, k)=>{
  gfx.push(R(170, y-12, 25, 24, {fill:F_COLORS[k]}, 51));
  gfx.push(T(213.5, y, fTiers[k], {size:24.5, z:52}));
});
gfx.push(T(1447, 1910, '*', {size:26, weight:'bold', color:'#D40000', z:52}));

// panel e : flowchart
const boxStyle = {fill:'#fff', stroke:'#000', lineWidth:1.3, shadowColor:'rgba(0,0,0,0.65)', shadowOffsetY:2, shadowBlur:0};
const bold = {b:{fontWeight:'bold', fontSize:18, fontFamily:FONT}};
gfx.push(R(110, 1170, 240, 63, boxStyle, 10, 5));
gfx.push(T(230, 1192, '{b|HLA typing} of 457 TCGA', {size:18, align:'center', rich:bold, z:11}));
gfx.push(T(230, 1215, 'patients using OptiType', {size:18, align:'center', z:11}));
gfx.push(R(8, 1311, 342, 64, boxStyle, 10, 5));
gfx.push(T(179, 1333, 'Extraction of mutant peptides and', {size:18, weight:'bold', align:'center', z:11}));
gfx.push(T(179, 1356, 'their wild-type counterparts', {size:18, weight:'bold', align:'center', z:11}));
gfx.push({type:'polyline', z:10, silent:true, shape:{points:[[350,1202],[374,1202],[380,1208],[380,1337],[374,1343],[350,1343]]}, style:{stroke:'#000', lineWidth:1.4, fill:null}});
function arrow(x1, x2, y) {
  gfx.push(L(x1, y, x2-7, y, {stroke:'#000', lineWidth:1.6}, 10));
  gfx.push({type:'polygon', z:10, silent:true, shape:{points:[[x2,y],[x2-9,y-4.5],[x2-9,y+4.5]]}, style:{fill:'#000'}});
}
arrow(380, 427, 1266);
gfx.push(R(427, 1222, 415, 87, boxStyle, 10, 5));
gfx.push(T(634.5, 1245, '{b|MHC-I binding prediction} of all nona-peptides', {size:18, align:'center', rich:bold, z:11}));
gfx.push(T(634.5, 1267, 'encompassing mutated sites using', {size:18, align:'center', z:11}));
gfx.push(T(634.5, 1289, 'NetMHCpan - 4.0', {size:18, align:'center', z:11}));
arrow(842, 887, 1266);
gfx.push(R(887, 1383, 324, 90, {fill:'#AEABAB'}, 9));
gfx.push(R(887, 1473, 324, 91, {fill:'#D3D2D2'}, 9));
gfx.push(R(887, 1235, 324, 329, {fill:null, stroke:'#000', lineWidth:1.8}, 11));
[1292, 1326, 1383, 1439, 1473, 1508].forEach(y=>gfx.push(L(887, y, 1211, y, {stroke:'#000', lineWidth:1.8}, 11)));
gfx.push(L(967, 1292, 967, 1564, {stroke:'#000', lineWidth:1.3}, 11));
gfx.push(L(1078, 1326, 1078, 1564, {stroke:'#000', lineWidth:1.3}, 11));
gfx.push(T(1049, 1254, 'Classification of predicted', {size:18, weight:'bold', align:'center', z:12}));
gfx.push(T(1049, 1277, 'antigenic mutations', {size:18, weight:'bold', align:'center', z:12}));
gfx.push(T(979, 1310, 'Predicted MHC-I binding', {size:18, weight:'bold', z:12}));
const colX = [900, 979, 1089];
function cellText(x, y, txt, o) { txt.split('\n').forEach((ln, j)=>gfx.push(T(x, y + 22*j, ln, o))); }
eTableHead.forEach((h, c)=>cellText(colX[c], 1345, h, {size:18, weight:'bold', z:12}));
const rowY = [1402, 1457, 1492, 1527];
eTableRows.forEach((row, r)=>row.forEach((cell, c)=>cellText(colX[c], rowY[r], cell, {size:18, z:12})));
arrow(1211, 1255, 1266);
gfx.push(R(1255, 1211, 214, 110, boxStyle, 10, 5));
gfx.push(T(1362, 1234, '{b|Filtering} of predicted', {size:18, align:'center', rich:bold, z:11}));
gfx.push(T(1362, 1257, 'neo-antigens based on', {size:18, align:'center', z:11}));
gfx.push(T(1362, 1278, 'mRNA expression', {size:18, align:'center', z:11}));
gfx.push(T(1362, 1300, '> 1TPM', {size:18, align:'center', z:11}));

/* ======================= RENDER ======================= */
const chart = echarts.init(document.getElementById('chart'), null, {renderer:'canvas', width:1472, height:2100});
chart.setOption({
  animation:false,
  backgroundColor:'#FFFFFF',
  textStyle:{fontFamily:FONT},
  grid:grids, xAxis:xAxes, yAxis:yAxes, series:series,
  graphic:{elements:gfx}
});
</script>
</body>
</html>
